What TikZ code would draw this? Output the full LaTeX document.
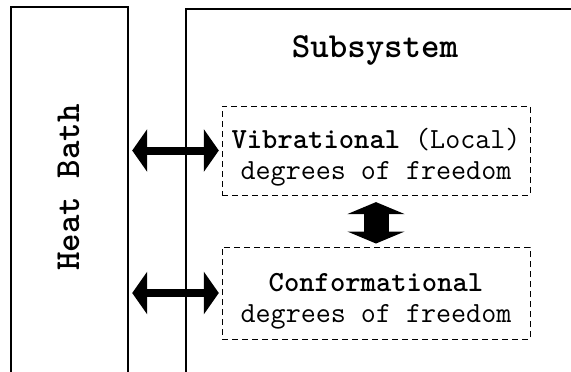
\documentclass[tikz,border=0pt]{standalone}
\usepackage{fontspec}
\usetikzlibrary{arrows.meta}

\begin{document}
\begin{tikzpicture}[x=0.5pt, y=-0.5pt,
    wall/.style={draw, line width=0.75pt, anchor=north west, inner sep=0pt, minimum height=200pt},
    dofbox/.style={draw, dash pattern=on 3pt off 2pt, line width=0.5pt, minimum width=154pt, inner sep=0pt,
                   font=\ttfamily\fontsize{14.6}{15.5}\selectfont},
    title/.style={font=\ttfamily\bfseries\fontsize{17.6}{20}\selectfont},
    thinarrow/.style={line width=4pt, {Triangle[width=21pt, length=7.5pt]}-{Triangle[width=21pt, length=7.5pt]}},
    fatarrow/.style={line width=12.5pt, {Triangle[width=28.5pt, length=6pt]}-{Triangle[width=28.5pt, length=6pt]}}]
            % Frame to fix the page
            \useasboundingbox (0,0) rectangle (571,371);
            \clip (0,0) rectangle (571,371);
            % Heat bath
            \node[wall, minimum width=58.5pt] (bath) at (10,6) {};
            \node[title, rotate=90] (bathlabel) at (68.5,187.5) {Heat Bath};
            % Subsystem
            \node[wall, line width=1pt, minimum width=230pt] (subsys) at (185,8) {};
            \node[title, anchor=base] (subsyslabel) at (375,57) {Subsystem};
            % Degrees of freedom (text set from its first baseline)
            \node[dofbox, minimum height=44.5pt] (vib) at (376,150.5)
                {\raisebox{1.25pt}[0pt][0pt]{\begin{tabular}[t]{@{}c@{}}\textbf{Vibrational} (Local)\\degrees of freedom\end{tabular}}};
            \node[dofbox, minimum height=46pt] (conf) at (376,293)
                {\raisebox{1pt}[0pt][0pt]{\begin{tabular}[t]{@{}c@{}}\textbf{Conformational}\\degrees of freedom\end{tabular}}};
            % Exchange
            \draw[thinarrow, shorten <=1.85pt, shorten >=1.35pt] (bath.east |- vib.west)  -- (vib.west);
            \draw[thinarrow, shorten <=1.85pt, shorten >=1.35pt] (bath.east |- conf.west) -- (conf.west);
            \draw[fatarrow,  shorten <=3.3pt,  shorten >=1.5pt]  (vib.south) -- (conf.north);
\end{tikzpicture}
\end{document}
